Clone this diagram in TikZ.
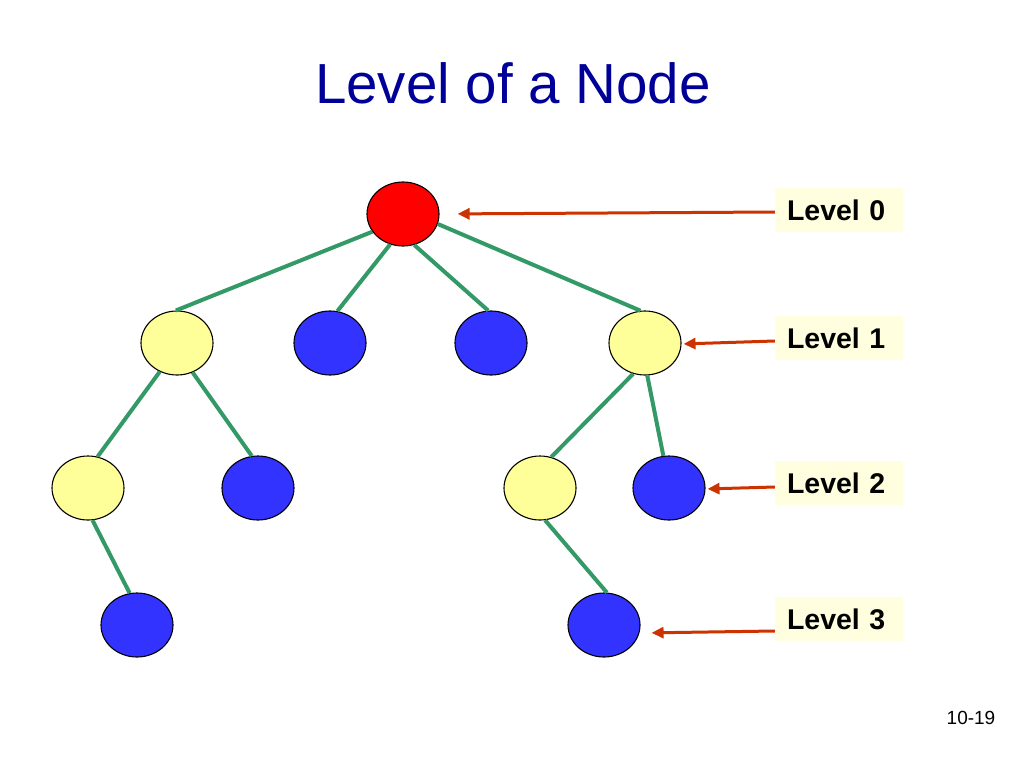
\documentclass[tikz,border=0pt]{standalone}
\usepackage{fontspec}
\setmainfont{Liberation Sans}
\usetikzlibrary{shapes.geometric,arrows.meta}
\definecolor{titleblue}{HTML}{000099}
\definecolor{nodered}{HTML}{FF0000}
\definecolor{nodeblue}{HTML}{3333FF}
\definecolor{nodeyellow}{HTML}{FFFF99}
\definecolor{edgegreen}{HTML}{339966}
\definecolor{arrowred}{HTML}{CC3300}
\definecolor{labelfill}{HTML}{FFFFE0}
\tikzset{
  tnode/.style={ellipse,draw=black,line width=1.1pt,minimum width=72pt,minimum height=64pt,inner sep=0pt},
  rednode/.style={tnode,fill=nodered},
  bluenode/.style={tnode,fill=nodeblue},
  yelnode/.style={tnode,fill=nodeyellow},
  tedge/.style={draw=edgegreen,line width=4pt},
  lvlabel/.style={fill=labelfill,inner xsep=12pt,inner ysep=0pt,text width=104pt,align=left,minimum height=44pt,font=\fontsize{28.5}{30}\selectfont\bfseries},
  lvarrow/.style={draw=arrowred,line width=3pt,-{Triangle[length=12pt,width=11pt]}}
}
\begin{document}
\begin{tikzpicture}[x=1pt,y=-1pt]
\useasboundingbox (0,0) rectangle (1024,768);
% title
\node[text=titleblue,font=\fontsize{56.5}{60}\selectfont] (title) at (513,83) {Level of a Node};
\node[font=\fontsize{19}{21}\selectfont] (pnum) at (971,718) {10-19};
% nodes
\node[rednode] (root) at (403,214) {};
\node[yelnode] (a1) at (177,343) {};
\node[bluenode] (b1) at (330,343) {};
\node[bluenode] (c1) at (491,343) {};
\node[yelnode] (d1) at (645,343) {};
\node[yelnode] (a2) at (88,488) {};
\node[bluenode] (b2) at (258,488) {};
\node[yelnode] (c2) at (540,488) {};
\node[bluenode] (d2) at (669,488) {};
\node[bluenode] (a3) at (137,625) {};
\node[bluenode] (b3) at (604,625) {};
% edges
\draw[tedge] (root.210) -- (a1.92);
\draw[tedge] (root.247) -- (b1.77);
\draw[tedge] (root.290) -- (c1.95);
\draw[tedge] (root.344) -- (d1.98);
\draw[tedge] (a1.239) -- (a2.73);
\draw[tedge] (a1.298) -- (b2.101);
\draw[tedge] (d1.249) -- (c2.70);
\draw[tedge] (d1.274) -- (d2.100);
\draw[tedge] (a2.278) -- (a3.103);
\draw[tedge] (c2.279) -- (b3.85);
% labels
\node[lvlabel] (lv0) at (839,210) {Level 0};
\node[lvlabel] (lv1) at (839,338) {Level 1};
\node[lvlabel] (lv2) at (839,483) {Level 2};
\node[lvlabel] (lv3) at (839,619) {Level 3};
% arrows
\draw[lvarrow,shorten >=18pt] ([yshift=-2pt]lv0.west) -- (root.east);
\draw[lvarrow,shorten >=2pt] ([yshift=-3pt]lv1.west) -- ([yshift=-1pt]d1.east);
\draw[lvarrow,shorten >=2pt] ([yshift=-4pt]lv2.west) -- ([yshift=-1pt]d2.east);
\draw[lvarrow,shorten >=11pt] ([yshift=-12pt]lv3.west) -- ([yshift=-8pt]b3.east);
\end{tikzpicture}
\end{document}
